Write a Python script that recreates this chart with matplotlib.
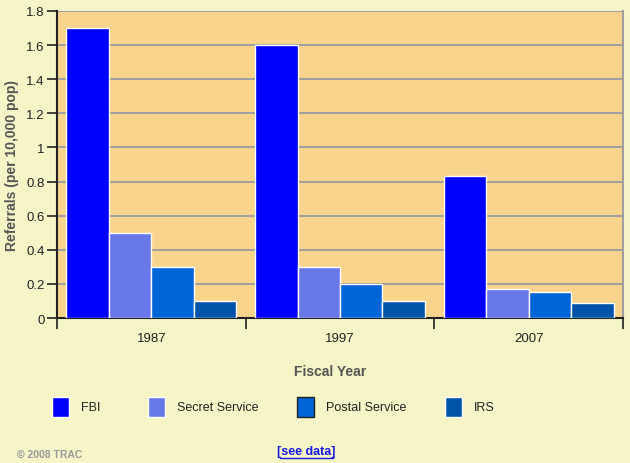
import matplotlib
matplotlib.use("Agg")
import matplotlib.pyplot as plt
from matplotlib.patches import Rectangle
import numpy as np

plt.rcParams['font.family'] = ['Liberation Sans', 'DejaVu Sans']

years = ["1987", "1997", "2007"]
series = ["FBI", "Secret Service", "Postal Service", "IRS"]
fbi = [1.70, 1.60, 0.83]
secret_service = [0.50, 0.30, 0.17]
postal_service = [0.30, 0.20, 0.15]
irs = [0.10, 0.10, 0.09]
values = [fbi, secret_service, postal_service, irs]
colors = ["#0000FF", "#6878E8", "#0066D8", "#0055AA"]
yticks = [0, 0.2, 0.4, 0.6, 0.8, 1, 1.2, 1.4, 1.6, 1.8]

fig_bg = "#F5F5C8"
ax_bg = "#F9D48C"
fig = plt.figure(figsize=(6.3, 4.64), dpi=100, facecolor=fig_bg)
ax = fig.add_axes([57/630, 1-319/464, (623-57)/630, (319-12)/464])
ax.set_facecolor(ax_bg)

bw = 0.225
x0 = np.arange(len(years))
for i, (vals, c) in enumerate(zip(values, colors)):
    ax.bar(x0 + 0.05 + i*bw, vals, width=bw, align='edge', color=c,
           edgecolor='white', linewidth=1, zorder=3)

ax.set_xlim(0, len(years))
ax.set_ylim(0, 1.8)
ax.set_yticks(yticks)
ax.set_yticklabels([f"{v:g}" for v in yticks], fontsize=9.5, color='#222222')
ax.yaxis.grid(True, color='#A0A0A0', linewidth=1.5, zorder=0)
ax.set_axisbelow(True)

ax.set_xticks(np.arange(len(years)+1))
ax.set_xticklabels([])
ax.set_xticks(x0 + 0.5, minor=True)
ax.set_xticklabels(years, minor=True, fontsize=9.5, color='#222222')
ax.tick_params(axis='x', which='major', length=8, width=1.2, color='#222222', direction='out')
ax.tick_params(axis='x', which='minor', length=0, pad=10)
ax.tick_params(axis='y', length=7, width=1.2, color='#222222', pad=2)

for s in ['left', 'bottom']:
    ax.spines[s].set_color('#222222')
    ax.spines[s].set_linewidth(1.5)
ax.spines['top'].set_visible(False)
ax.spines['right'].set_color('#A0A0A0')
ax.spines['right'].set_linewidth(1.5)

ax.set_ylabel("Referrals (per 10,000 pop)", fontsize=10, fontweight='bold', color='#555555', labelpad=5)
fig.text(330/630, 1-372/464, "Fiscal Year", fontsize=10, fontweight='bold', color='#555555',
         ha='center', va='center')

# legend
sq_x = [52, 148, 297, 445]
for name, c, sx in zip(series, colors, sq_x):
    ec = '#222222' if name == "Postal Service" else 'white'
    fig.patches.append(Rectangle((sx/630, 1-418/464), 17/630, 20/464, transform=fig.transFigure,
                                 facecolor=c, edgecolor=ec, linewidth=1))
    fig.text((sx+29)/630, 1-408/464, name, fontsize=9, color='#222222', va='center', ha='left')

fig.text(17/630, 1-455/464, "© 2008 TRAC", fontsize=7.5, fontweight='bold', color='#999999',
         va='center', ha='left')
fig.text(306/630, 1-452/464, "[see data]", fontsize=9, fontweight='bold', color='#1A1AE6',
         va='center', ha='center')
fig.lines.append(plt.Line2D([280/630, 333/630], [1-459/464, 1-459/464],
                            transform=fig.transFigure, color='#1A1AE6', linewidth=1))

fig.savefig("out.png", dpi=100, facecolor=fig_bg)
